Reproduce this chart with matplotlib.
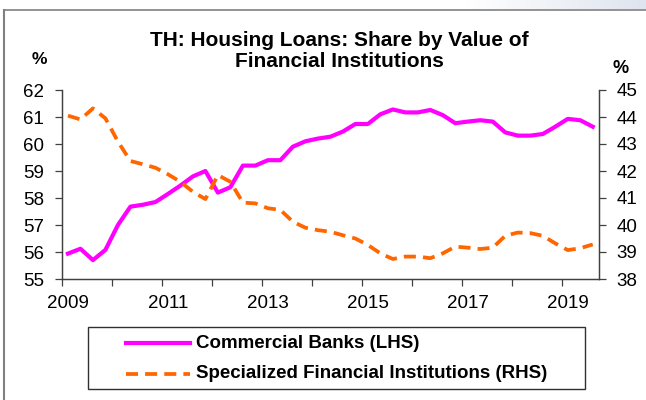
import numpy as np
import matplotlib.pyplot as plt
from matplotlib.lines import Line2D
from matplotlib.patches import Rectangle
from matplotlib.colors import LinearSegmentedColormap

plt.rcParams['font.family'] = ['Liberation Sans', 'DejaVu Sans']

# quarterly data, 2009Q1 - 2019Q3
start_year = 2009
commercial_banks = [55.94, 56.12, 55.70, 56.08, 57.00, 57.68, 57.75, 57.85, 58.15, 58.46,
                    58.80, 59.00, 58.20, 58.40, 59.20, 59.20, 59.40, 59.40, 59.90, 60.10,
                    60.20, 60.27, 60.46, 60.74, 60.74, 61.10, 61.28, 61.17, 61.17, 61.26,
                    61.07, 60.77, 60.83, 60.88, 60.83, 60.43, 60.31, 60.31, 60.37, 60.64,
                    60.93, 60.88, 60.64]
specialized = [44.05, 43.91, 44.32, 43.95, 43.09, 42.37, 42.25, 42.12, 41.88, 41.60,
               41.23, 40.96, 41.85, 41.60, 40.83, 40.80, 40.62, 40.56, 40.12, 39.90,
               39.81, 39.75, 39.62, 39.50, 39.26, 38.95, 38.74, 38.83, 38.83, 38.77,
               38.95, 39.20, 39.16, 39.11, 39.16, 39.60, 39.72, 39.70, 39.60, 39.32,
               39.07, 39.14, 39.28]
series_names = ['Commercial Banks (LHS)', 'Specialized Financial Institutions (RHS)']
year_ticks = list(range(2009, 2020))
label_years = list(range(2009, 2020, 2))

x = start_year + (np.arange(len(commercial_banks)) + 0.5) / 4

W, H = 646, 400
fig = plt.figure(figsize=(W / 100, H / 100), dpi=100)

def fx(px):
    return px / W

def fy(py):
    return 1 - py / H

# outer frame of the chart
fig.add_artist(Line2D([fx(4), fx(4)], [0, fy(10)], color='#808080', lw=1.5))
fig.add_artist(Line2D([fx(4), 1], [fy(10), fy(10)], color='#808080', lw=1.2))

# faint slide background in the top-right corner
grad = np.linspace(0, 1, 100).reshape(1, -1)
bg = fig.add_axes([0.72, fy(9), 0.28, 9 / H])
bg.imshow(grad, cmap=LinearSegmentedColormap.from_list('bg', ['#ffffff', '#dfe4ef']),
          aspect='auto', extent=(0, 1, 0, 1))
bg.axis('off')

ax = fig.add_axes([fx(61.7), fy(279), fx(599 - 61.7), (279 - 90) / H])
ax2 = ax.twinx()

cb_style = dict(color='#ff00ff', lw=3.0, solid_joinstyle='round')
sfi_style = dict(color='#ff6600', lw=2.7, linestyle=(0, (3.2, 1.9)))

ax.plot(x, commercial_banks, zorder=3, **cb_style)
ax2.plot(x, specialized, **sfi_style)

ax.set_xlim(2009, 2019.75)
ax.set_ylim(55, 62)
ax2.set_ylim(38, 45)
ax.set_yticks(range(55, 63))
ax2.set_yticks(range(38, 46))

# year tick marks, labels centred on each year's first quarter (category axis)
ax.set_xticks(year_ticks)
ax.set_xticklabels([])
ax.set_xticks([y + 0.125 for y in label_years], minor=True)
ax.set_xticklabels([str(y) for y in label_years], minor=True)
ax.tick_params(axis='x', which='minor', length=0, labelsize=13.5, pad=11.5)

for a in (ax, ax2):
    a.spines['top'].set_visible(False)
    for s in ('left', 'right', 'bottom'):
        a.spines[s].set_color('#404040')
        a.spines[s].set_linewidth(0.9)
    a.tick_params(which='major', direction='out', length=4.7, width=0.9, color='#404040',
                  labelsize=13.5, pad=8)
ax.patch.set_visible(False)

fig.text(fx(339), fy(50.8), 'TH: Housing Loans: Share by Value of\nFinancial Institutions',
         ha='center', va='center', fontsize=15, fontweight='bold', linespacing=1.15)
fig.text(fx(39.5), fy(59), '%', ha='center', va='center', fontsize=12.5, fontweight='bold')
fig.text(fx(621), fy(68.5), '%', ha='center', va='center', fontsize=13, fontweight='bold')

# legend box drawn by hand to match the original layout
fig.add_artist(Rectangle((fx(88), fy(389)), fx(585 - 88), (389 - 327) / H,
                         fill=False, edgecolor='#303030', lw=1.0))
for name, style, ypx in zip(series_names, [cb_style, sfi_style], [343, 374]):
    fig.add_artist(Line2D([fx(126), fx(190)], [fy(ypx), fy(ypx)], **style))
    fig.text(fx(196), fy(ypx), name, ha='left', va='center', fontsize=13.5, fontweight='bold')

fig.savefig('out.png', dpi=100)
